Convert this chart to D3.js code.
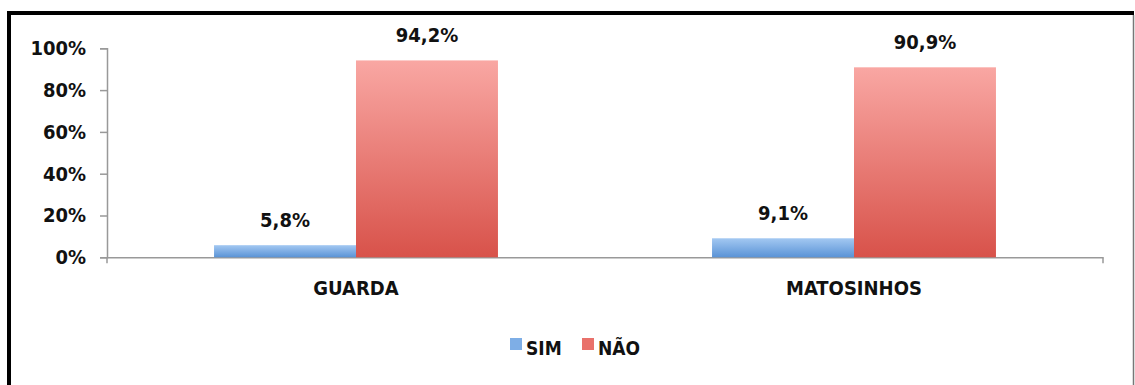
<!DOCTYPE html>
<html>
<head>
<meta charset="utf-8">
<script src="https://cdn.jsdelivr.net/npm/d3@7"></script>
<style>
  body{margin:0;background:#fff;}
  text{font-family:"DejaVu Sans Condensed","DejaVu Sans",sans-serif;font-weight:bold;fill:#111;}
</style>
</head>
<body>
<div id="graphique"></div>
<script>
// donnees du graphique
const categories = ["GUARDA", "MATOSINHOS"];
const series = ["SIM", "NÃO"];
const valSim = [5.8, 9.1];
const valNao = [94.2, 90.9];
const yTicks = [0, 20, 40, 60, 80, 100];
const etiquettes = ["5,8%", "9,1%", "94,2%", "90,9%"];

const largeur = 1135, hauteur = 385;
const police = "'DejaVu Sans Condensed','DejaVu Sans',sans-serif";
const svg = d3.select("#graphique").append("svg")
  .attr("width", largeur).attr("height", hauteur);

// degrades pour les barres
const defs = svg.append("defs");
function degrade(id, haut, bas){
  let g = defs.append("linearGradient").attr("id", id)
    .attr("x1", 0).attr("y1", 0).attr("x2", 0).attr("y2", 1);
  g.append("stop").attr("offset", "0%").attr("stop-color", haut);
  g.append("stop").attr("offset", "100%").attr("stop-color", bas);
}
degrade("gSim", "#a3c8f2", "#5a93d6");
degrade("gNao", "#f9a7a3", "#d8524a");
const couleurs = {"SIM": "url(#gSim)", "NÃO": "url(#gNao)"};
const couleursLegende = {"SIM": "#7eaee6", "NÃO": "#e9716b"};

// cadre
svg.append("line").attr("x1", 9).attr("x2", 9).attr("y1", 11).attr("y2", hauteur)
  .attr("stroke", "#000").attr("stroke-width", 4);
svg.append("line").attr("x1", 7).attr("x2", 1134).attr("y1", 13).attr("y2", 13)
  .attr("stroke", "#000").attr("stroke-width", 4);
svg.append("line").attr("x1", 1133.5).attr("x2", 1133.5).attr("y1", 15).attr("y2", hauteur)
  .attr("stroke", "#777").attr("stroke-width", 1.5);

// echelles
const x0 = d3.scaleBand().domain(categories).range([107, 1103]).padding(0);
const x1 = d3.scaleBand().domain(series).range([0, x0.bandwidth()])
  .paddingInner(0).paddingOuter(0.754);
const y = d3.scaleLinear().domain([0, 100]).range([257.3, 48.3]);

// axe y
const axeY = svg.append("g").attr("transform", "translate(107,0)")
  .call(d3.axisLeft(y).tickValues(yTicks).tickSize(7).tickPadding(14)
    .tickFormat(d => d + "%"));
axeY.selectAll("path,line").attr("stroke", "#999").attr("stroke-width", 1.5);
axeY.selectAll("text").style("font-size", "20px").style("font-family", police)
  .style("font-weight", "bold").attr("fill", "#111");

// axe x
const axeX = svg.append("g").attr("transform", "translate(0," + y(0) + ")")
  .call(d3.axisBottom(x0).tickSize(0).tickPadding(24));
axeX.select("path").attr("stroke", "#999").attr("stroke-width", 1.5);
axeX.selectAll("text").style("font-size", "20px").style("font-family", police)
  .style("font-weight", "bold").attr("fill", "#111");
// petites marques aux bords des categories
const bords = [x0.range()[0], x0.range()[1]];
svg.selectAll(".bord").data(bords).enter().append("line")
  .attr("x1", d => d).attr("x2", d => d)
  .attr("y1", y(0)).attr("y2", y(0) + 6)
  .attr("stroke", "#999").attr("stroke-width", 1.5);

// barres
const donnees = [];
categories.forEach((c, i) => {
  donnees.push({cat: c, serie: "SIM", v: valSim[i], lab: etiquettes[i]});
  donnees.push({cat: c, serie: "NÃO", v: valNao[i], lab: etiquettes[i + 2]});
});
svg.selectAll(".barre").data(donnees).enter().append("rect")
  .attr("x", d => x0(d.cat) + x1(d.serie))
  .attr("width", x1.bandwidth())
  .attr("y", d => y(d.v))
  .attr("height", d => y(0) - y(d.v))
  .attr("fill", d => couleurs[d.serie]);

svg.selectAll(".etiq").data(donnees).enter().append("text")
  .attr("x", d => x0(d.cat) + x1(d.serie) + x1.bandwidth() / 2)
  .attr("y", d => y(d.v) - 18)
  .attr("text-anchor", "middle")
  .style("font-size", "20px")
  .text(d => d.lab);

// legende
const legende = svg.append("g").attr("transform", "translate(510,338)");
const posLeg = [0, 72];
series.forEach((s, i) => {
  legende.append("rect").attr("x", posLeg[i]).attr("y", 0)
    .attr("width", 12).attr("height", 12).attr("fill", couleursLegende[s]);
  legende.append("text").attr("x", posLeg[i] + 16).attr("y", 17)
    .style("font-size", "19px").text(s);
});
</script>
</body>
</html>
